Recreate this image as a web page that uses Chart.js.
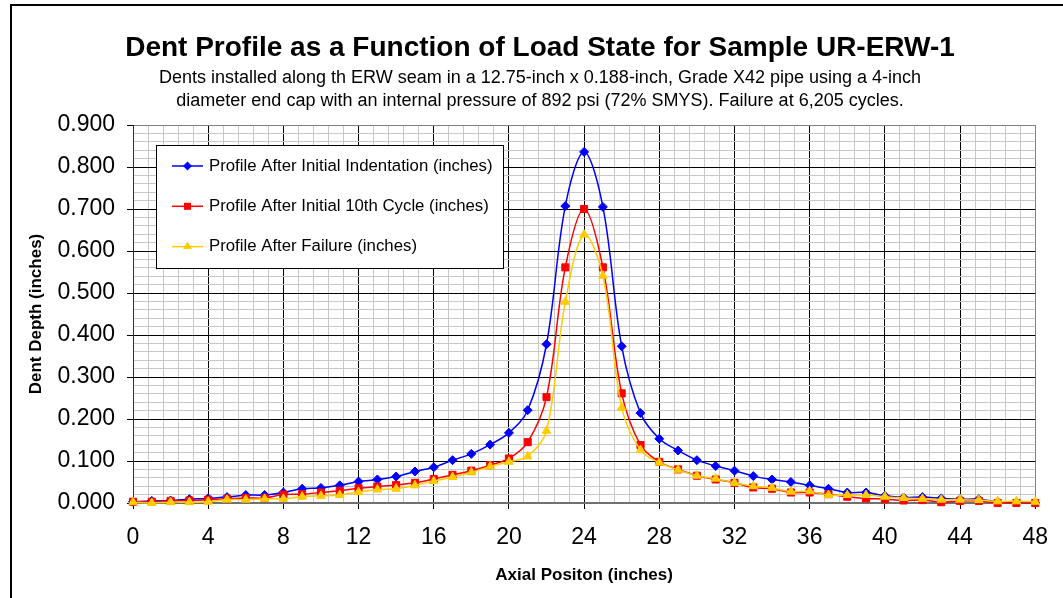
<!DOCTYPE html>
<html>
<head>
<meta charset="utf-8">
<title>Dent Profile as a Function of Load State for Sample UR-ERW-1</title>
<script src="https://cdn.jsdelivr.net/npm/chart.js@4.4.1/dist/chart.umd.min.js"></script>
<style>
    html, body { margin: 0; padding: 0; background: #fff; overflow: hidden; }
    #frame { position: absolute; left: 10px; top: 4px; width: 1100px; height: 700px; border: 2px solid #000; }
    #wrap { position: absolute; left: 0; top: 0; width: 1063px; height: 598px; }
</style>
</head>
<body>
<div id="frame"></div>
<div id="wrap"><canvas id="dentChart"></canvas></div>
<script>
const positions = [0, 1, 2, 3, 4, 5, 6, 7, 8, 9, 10, 11, 12, 13, 14, 15, 16, 17, 18, 19, 20, 21, 22, 23, 24,
    25, 26, 27, 28, 29, 30, 31, 32, 33, 34, 35, 36, 37, 38, 39, 40, 41, 42, 43, 44, 45, 46, 47, 48];

const afterIndentation = [0.003, 0.005, 0.006, 0.009, 0.011, 0.014, 0.019, 0.019, 0.025, 0.034, 0.036, 0.042,
    0.051, 0.056, 0.063, 0.075, 0.085, 0.102, 0.117, 0.139, 0.167, 0.221, 0.378, 0.707, 0.836,
    0.705, 0.373, 0.214, 0.153, 0.125, 0.102, 0.088, 0.077, 0.064, 0.056, 0.050, 0.042, 0.034,
    0.025, 0.025, 0.017, 0.013, 0.014, 0.011, 0.009, 0.009, 0.003, 0.002, 0.000];

const afterTenthCycle = [0.003, 0.003, 0.005, 0.006, 0.008, 0.010, 0.012, 0.012, 0.020, 0.021, 0.025, 0.029,
    0.035, 0.039, 0.043, 0.048, 0.057, 0.067, 0.077, 0.090, 0.106, 0.145, 0.252, 0.561, 0.700,
    0.561, 0.261, 0.138, 0.098, 0.080, 0.065, 0.056, 0.048, 0.037, 0.034, 0.025, 0.025, 0.021,
    0.015, 0.011, 0.009, 0.006, 0.007, 0.002, 0.005, 0.005, 0.000, 0.000, 0.000];

const afterFailure = [0.002, 0.000, 0.002, 0.002, 0.003, 0.008, 0.008, 0.010, 0.010, 0.015, 0.017, 0.019,
    0.026, 0.032, 0.034, 0.042, 0.052, 0.062, 0.073, 0.087, 0.098, 0.111, 0.172, 0.479, 0.639,
    0.541, 0.227, 0.126, 0.096, 0.079, 0.065, 0.058, 0.048, 0.040, 0.036, 0.027, 0.028, 0.019,
    0.019, 0.019, 0.015, 0.012, 0.010, 0.008, 0.008, 0.007, 0.004, 0.004, 0.003];

const seriesLabels = [
    'Profile After Initial Indentation (inches)',
    'Profile After Initial 10th Cycle (inches)',
    'Profile After Failure (inches)'
];

const titleText = 'Dent Profile as a Function of Load State for Sample UR-ERW-1';
const subtitleLines = [
    'Dents installed along th ERW seam in a 12.75-inch x 0.188-inch, Grade X42 pipe using a 4-inch',
    'diameter end cap with an internal pressure of 892 psi (72% SMYS). Failure at 6,205 cycles.'
];
const xAxisTitle = 'Axial Positon (inches)';
const yAxisTitle = 'Dent Depth (inches)';

const fontFamily = '"Liberation Sans", Arial, sans-serif';
Chart.defaults.font.family = fontFamily;
Chart.defaults.color = '#000';

function toPoints(values) {
    return positions.map((x, i) => ({ x: x, y: values[i] }));
}

function isMultiple(value, step) {
    const q = value / step;
    return Math.abs(q - Math.round(q)) < 1e-6;
}

function drawMarker(ctx, style, x, y, r, color) {
    ctx.fillStyle = color;
    ctx.beginPath();
    if (style === 'rectRot') {
        ctx.moveTo(x, y - r);
        ctx.lineTo(x + r, y);
        ctx.lineTo(x, y + r);
        ctx.lineTo(x - r, y);
    } else if (style === 'rect') {
        const s = r * Math.SQRT1_2;
        ctx.rect(x - s, y - s, 2 * s, 2 * s);
    } else {
        for (let k = 0; k < 3; k++) {
            const a = k * 2 * Math.PI / 3;
            const px = x + Math.sin(a) * r;
            const py = y - Math.cos(a) * r;
            if (k === 0) ctx.moveTo(px, py); else ctx.lineTo(px, py);
        }
    }
    ctx.closePath();
    ctx.fill();
}

// legend sits inside the plot area, boxed, like the Excel original
const boxLegend = {
    id: 'boxLegend',
    afterDatasetsDraw(chart) {
        const { ctx, chartArea } = chart;
        const left = chartArea.left + 23;
        const top = chartArea.top + 20;
        ctx.save();
        ctx.fillStyle = '#fff';
        ctx.fillRect(left, top, 347, 123);
        ctx.strokeStyle = '#000';
        ctx.lineWidth = 1;
        ctx.strokeRect(left + 0.5, top + 0.5, 347, 123);
        ctx.font = '16.8px ' + fontFamily;
        ctx.textBaseline = 'middle';
        ctx.textAlign = 'left';
        chart.data.datasets.forEach((ds, i) => {
            const y = top + 21 + i * 40.3;
            ctx.strokeStyle = ds.borderColor;
            ctx.lineWidth = 1.5;
            ctx.beginPath();
            ctx.moveTo(left + 16, y);
            ctx.lineTo(left + 47, y);
            ctx.stroke();
            drawMarker(ctx, ds.pointStyle, left + 31.5, y, ds.pointRadius, ds.borderColor);
            ctx.fillStyle = '#000';
            ctx.fillText(ds.label, left + 53, y);
        });
        ctx.restore();
    }
};

function gridColor(max, major) {
    return (context) => {
        const v = context.tick.value;
        if (Math.abs(v - max) < 1e-6) return '#808080';
        return isMultiple(v, major) ? '#000' : '#c8c8c8';
    };
}

function tickColor(major) {
    return (context) => isMultiple(context.tick.value, major) ? '#000' : 'rgba(0,0,0,0)';
}

const ctx = document.getElementById('dentChart').getContext('2d');
const dentChart = new Chart(ctx, {
    type: 'line',
    data: {
        datasets: [{
            label: seriesLabels[0],
            data: toPoints(afterIndentation),
            borderColor: '#0000ff',
            backgroundColor: '#0000ff',
            pointStyle: 'rectRot',
            pointRadius: 4.5,
            order: 2
        }, {
            label: seriesLabels[1],
            data: toPoints(afterTenthCycle),
            borderColor: '#ff0000',
            backgroundColor: '#ff0000',
            pointStyle: 'rect',
            pointRadius: 5,
            order: 1
        }, {
            label: seriesLabels[2],
            data: toPoints(afterFailure),
            borderColor: '#ffcc00',
            backgroundColor: '#ffcc00',
            pointStyle: 'triangle',
            pointRadius: 5,
            order: 0
        }]
    },
    options: {
        responsive: true,
        maintainAspectRatio: false,
        animation: false,
        datasets: {
            line: {
                borderWidth: 1.5,
                tension: 0.35,
                pointBorderWidth: 1,
                clip: 10
            }
        },
        layout: {
            padding: { left: 30, right: 13, top: 0, bottom: 0 }
        },
        scales: {
            x: {
                type: 'linear',
                min: 0,
                max: 48,
                afterFit: (scale) => { scale.height = 95; },
                ticks: {
                    stepSize: 0.8,
                    autoSkip: false,
                    maxRotation: 0,
                    padding: 15,
                    font: { size: 23 },
                    callback: (value) => isMultiple(value, 4) ? String(Math.round(value)) : ''
                },
                grid: {
                    color: gridColor(48, 4),
                    tickColor: tickColor(4),
                    tickLength: 6,
                    lineWidth: 1
                },
                border: { color: '#707070', width: 2 },
                title: {
                    display: true,
                    text: xAxisTitle,
                    font: { size: 17, weight: 'bold', lineHeight: 1.2 },
                    padding: { top: 0, bottom: 12.8 }
                }
            },
            y: {
                min: 0,
                max: 0.9,
                afterFit: (scale) => { scale.width = 103; },
                ticks: {
                    stepSize: 0.02,
                    autoSkip: false,
                    padding: 12,
                    font: { size: 23 },
                    callback: (value) => isMultiple(value, 0.1) ? value.toFixed(3) : ''
                },
                grid: {
                    color: gridColor(0.9, 0.1),
                    tickColor: tickColor(0.1),
                    tickLength: 6,
                    lineWidth: 1
                },
                border: { color: '#303030', width: 1 },
                title: {
                    display: true,
                    text: yAxisTitle,
                    font: { size: 17, weight: 'bold', lineHeight: 1.2 },
                    padding: { top: -4.2, bottom: 0 }
                }
            }
        },
        plugins: {
            legend: { display: false },
            tooltip: { enabled: false },
            title: {
                display: true,
                text: titleText,
                color: '#000',
                font: { size: 28, weight: 'bold', lineHeight: 1.2 },
                padding: { top: 31.9, bottom: 0 }
            },
            subtitle: {
                display: true,
                text: subtitleLines,
                color: '#000',
                font: { size: 18, weight: 'normal', lineHeight: 1.3056 },
                padding: { top: 0.45, bottom: 12.05 }
            }
        }
    },
    plugins: [boxLegend]
});
</script>
</body>
</html>
